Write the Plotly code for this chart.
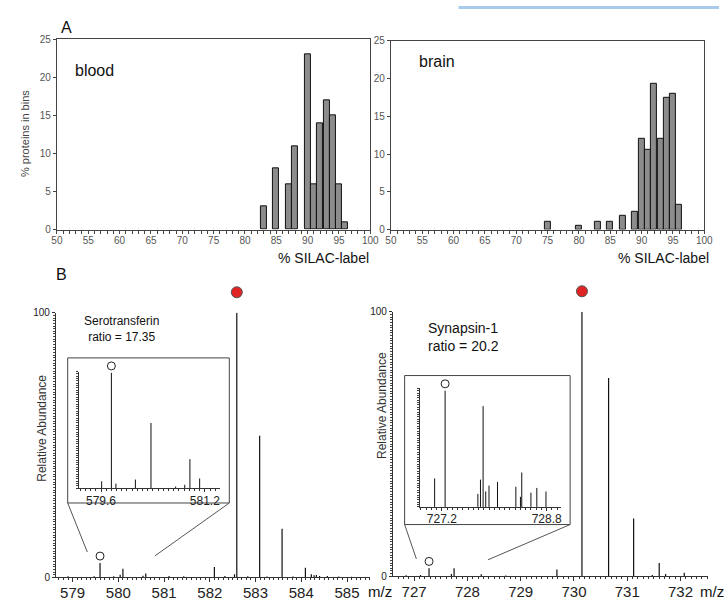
import plotly.graph_objects as go

W, H = 728, 608
FONT = "Liberation Sans"

# ---------------- data: panel A histograms ----------------
blood_bins = [83, 85, 87, 88, 90, 91, 92, 93, 94, 95, 96]
blood_pct = [3, 8, 6, 11, 23, 6, 14, 17, 15, 6, 1]
brain_bins = [75, 80, 83, 85, 87, 89, 90, 91, 92, 93, 94, 95, 96]
brain_pct = [1.0, 0.5, 1.0, 1.0, 1.8, 2.3, 12.0, 10.6, 19.3, 12.0, 17.5, 18.0, 3.3]
hist_ticks = [50, 55, 60, 65, 70, 75, 80, 85, 90, 95, 100]

# ---------------- data: panel B spectra ----------------
sero_mz = [578.9, 579.47, 579.6, 579.9, 580.04, 580.1, 580.54, 580.6, 581.11, 581.43,
           582.1, 582.33, 582.54, 582.59, 582.83, 583.09, 583.25, 583.58, 583.82,
           584.09, 584.22, 584.28, 584.33, 584.4, 584.57, 584.82, 585.1]
sero_int = [0.5, 0.5, 5.5, 0.5, 1.0, 3.3, 0.7, 1.5, 0.6, 0.5,
            4.0, 0.6, 1.2, 100, 0.5, 53.6, 0.4, 18.4, 0.4,
            3.7, 1.2, 0.8, 0.9, 0.6, 0.6, 0.4, 0.3]
sero_zoom_mz = [579.61, 579.76, 579.83, 580.13, 580.37, 580.75, 580.89, 580.97, 581.12]
sero_zoom_int = [6, 99, 4, 7.5, 56, 1.5, 3, 25, 8.4]

syn_mz = [726.85, 727.12, 727.28, 727.7, 727.75, 728.26, 728.72, 729.68,
          730.15, 730.65, 731.12, 731.47, 731.6, 731.72, 732.07]
syn_int = [0.4, 0.5, 3.0, 0.8, 3.0, 0.7, 0.3, 2.5,
           100, 75, 21.8, 0.5, 5.0, 0.8, 1.3]
syn_zoom_mz = [727.09, 727.25, 727.75, 727.79, 727.83, 727.87, 727.92, 728.05,
               728.33, 728.40, 728.42, 728.56, 728.65, 728.79]
syn_zoom_int = [24, 98, 11, 23, 85, 13, 18, 21, 17, 8.5, 29, 12, 16, 13]

sero_label = "Serotransferin<br>ratio = 17.35"
syn_label = "Synapsin-1<br>ratio = 20.2"


def xd(a, b):
    return [a / W, b / W]


def yd(top, bottom):
    return [1 - bottom / H, 1 - top / H]


def px(x):
    return x / W


def py(y):
    return 1 - y / H


def sticks(mz, inten):
    xs, ys = [], []
    for m, h in zip(mz, inten):
        xs += [m, m, None]
        ys += [0, h, None]
    return xs, ys


def base_idx(vals):
    return max(range(len(vals)), key=lambda i: vals[i])


fig = go.Figure()

# histograms
for bins, pct, xa, ya in [(blood_bins, blood_pct, "x", "y"), (brain_bins, brain_pct, "x2", "y2")]:
    fig.add_trace(go.Bar(x=bins, y=pct, width=0.95,
                         marker=dict(color="#8c8c8c", line=dict(color="#111111", width=1)),
                         xaxis=xa, yaxis=ya, showlegend=False))

# spectra sticks
for mz, it, xa, ya, w in [(sero_mz, sero_int, "x3", "y3", 1.2),
                          (syn_mz, syn_int, "x4", "y4", 1.2),
                          (sero_zoom_mz, sero_zoom_int, "x5", "y5", 1.0),
                          (syn_zoom_mz, syn_zoom_int, "x6", "y6", 1.0)]:
    xs, ys = sticks(mz, it)
    fig.add_trace(go.Scatter(x=xs, y=ys, mode="lines", line=dict(color="#111111", width=w),
                             xaxis=xa, yaxis=ya, showlegend=False, hoverinfo="skip"))

# main spectra: red dot above base peak, open circle above light peak
for mz, it, xa, ya, light_mz, pxper in [(sero_mz, sero_int, "x3", "y7", 579.6, 2.7),
                                        (syn_mz, syn_int, "x4", "y8", 727.28, 2.697)]:
    b = base_idx(it)
    fig.add_trace(go.Scatter(x=[mz[b]], y=[it[b] + 21 / pxper], mode="markers",
                             marker=dict(size=11, color="#e02424", line=dict(color="#555", width=1)),
                             xaxis=xa, yaxis=ya, showlegend=False))
    li = mz.index(light_mz)
    fig.add_trace(go.Scatter(x=[mz[li]], y=[it[li] + 7 / pxper], mode="markers",
                             marker=dict(size=8, color="white", line=dict(color="#222", width=1)),
                             xaxis=xa, yaxis=ya, showlegend=False))
# insets: open circle above light peak
for mz, it, xa, ya, pxper in [(sero_zoom_mz, sero_zoom_int, "x5", "y9", 1.19),
                              (syn_zoom_mz, syn_zoom_int, "x6", "y10", 1.21)]:
    b = base_idx(it)
    fig.add_trace(go.Scatter(x=[mz[b]], y=[it[b] + 7 / pxper], mode="markers",
                             marker=dict(size=8, color="white", line=dict(color="#222", width=1)),
                             xaxis=xa, yaxis=ya, showlegend=False))

tickfont_h = dict(family=FONT, size=10, color="#555")
hist_x = dict(range=[50, 100], tickmode="array", tickvals=hist_ticks, ticks="outside", ticklen=3,
              tickcolor="#444", showline=True, linecolor="#444", linewidth=1, mirror=True,
              showgrid=False, zeroline=False, tickfont=tickfont_h, ticklabelstandoff=-2,
              minor=dict(tickmode="linear", tick0=50, dtick=1, ticks="outside", ticklen=3,
                         tickcolor="#444", showgrid=False))
hist_y = dict(range=[0, 25], tickmode="linear", tick0=0, dtick=5, ticks="outside", ticklen=3,
              tickcolor="#444", showline=True, linecolor="#444", linewidth=1, mirror=True,
              showgrid=False, zeroline=False, tickfont=tickfont_h)

spec_x = dict(tickmode="linear", tick0=0, dtick=1, ticks="outside", ticklen=4, tickcolor="#333",
              showline=True, linecolor="#333", linewidth=1, showgrid=False, zeroline=False,
              tickfont=dict(family=FONT, size=15, color="#222"), ticklabelstandoff=-2,
              minor=dict(tickmode="linear", dtick=0.1, ticks="outside", ticklen=2,
                         tickcolor="#333", showgrid=False))
spec_y = dict(range=[0, 100], tickmode="linear", tick0=0, dtick=100, ticks="outside", ticklen=3,
              tickcolor="#333", showline=True, linecolor="#333", linewidth=1, showgrid=False,
              zeroline=False, tickfont=dict(family=FONT, size=10, color="#222"),
              minor=dict(tickmode="linear", dtick=1, ticks="outside", ticklen=2,
                         tickcolor="#444", showgrid=False))
ins_x = dict(tickmode="linear", dtick=1.6, ticks="outside", ticklen=3, tickcolor="#333",
             showline=True, linecolor="#333", linewidth=1, showgrid=False, zeroline=False,
             tickfont=dict(family=FONT, size=12, color="#222"), ticklabelstandoff=-2,
             minor=dict(tickmode="linear", dtick=0.08, ticks="outside", ticklen=2,
                        tickcolor="#333", showgrid=False))
ins_y = dict(range=[0, 100], tickmode="linear", tick0=0, dtick=100, ticks="outside", ticklen=2,
             tickcolor="#333", showline=True, linecolor="#333", linewidth=1, showgrid=False,
             zeroline=False, showticklabels=False,
             minor=dict(tickmode="linear", dtick=2, ticks="outside", ticklen=2,
                        tickcolor="#444", showgrid=False))


def tall(anchor, top, bottom, newtop):
    # invisible y axis with the same px-per-% scale as the 0-100 axis but extending higher
    return dict(domain=yd(newtop, bottom), anchor=anchor, visible=False,
                range=[0, 100 * (bottom - newtop) / (bottom - top)], showgrid=False, zeroline=False)


fig.update_layout(
    width=W, height=H, margin=dict(l=0, r=0, t=0, b=0),
    paper_bgcolor="white", plot_bgcolor="rgba(0,0,0,0)",
    bargap=0, showlegend=False,
    font=dict(family=FONT, color="#111"),
    xaxis=dict(domain=xd(52, 372), anchor="y", **hist_x),
    yaxis=dict(domain=yd(34, 228), anchor="x", **hist_y),
    xaxis2=dict(domain=xd(393, 713), anchor="y2", **hist_x),
    yaxis2=dict(domain=yd(35.5, 228), anchor="x2", **hist_y),
    xaxis3=dict(domain=xd(51, 372), anchor="y3", range=[578.636, 585.51], **spec_x),
    yaxis3=dict(domain=yd(313, 583), anchor="x3", **spec_y),
    xaxis4=dict(domain=xd(395, 717), anchor="y4", range=[726.601, 732.52], **spec_x),
    yaxis4=dict(domain=yd(312, 581.7), anchor="x4", **spec_y),
    xaxis5=dict(domain=xd(75, 218), anchor="y5", range=[579.268, 581.426], tick0=579.6, **ins_x),
    yaxis5=dict(domain=yd(373, 492), anchor="x5", **ins_y),
    xaxis6=dict(domain=xd(423, 567), anchor="y6", range=[726.871, 729.024], tick0=727.2, **ins_x),
    yaxis6=dict(domain=yd(390, 511), anchor="x6", **ins_y),
    yaxis7=tall("x3", 313, 583, 270),
    yaxis8=tall("x4", 312, 581.7, 270),
    yaxis9=tall("x5", 373, 492, 350),
    yaxis10=tall("x6", 390, 511, 370),
)

shapes = []
# light blue strip at top
shapes.append(dict(type="rect", xref="paper", yref="paper", x0=px(462), x1=px(728), y0=py(3), y1=py(0),
                   fillcolor="#a9cbeb", line=dict(width=0), layer="below"))
# inset frames
for (x0, y0, x1, y1) in [(63, 359, 228, 507), (407, 377, 576, 529)]:
    shapes.append(dict(type="rect", xref="paper", yref="paper", x0=px(x0), x1=px(x1), y0=py(y1), y1=py(y0),
                       line=dict(color="#444", width=1), fillcolor="rgba(0,0,0,0)", layer="below"))
# zoom connector lines
for (x0, y0, x1, y1) in [(63, 507, 83, 557), (228, 507, 152, 561),
                         (407, 529, 419, 564), (576, 529, 492, 565)]:
    shapes.append(dict(type="line", xref="paper", yref="paper", x0=px(x0), x1=px(x1), y0=py(y0), y1=py(y1),
                       line=dict(color="#555", width=1)))
fig.update_layout(shapes=shapes)

ann = []


def add_text(text, x, y, size, color="#111", xanchor="center", angle=0, align="center"):
    ann.append(dict(text=text, x=px(x), y=py(y), xref="paper", yref="paper", showarrow=False,
                    xanchor=xanchor, yanchor="middle", textangle=angle, align=align,
                    font=dict(family=FONT, size=size, color=color)))


add_text("A", 62, 22, 16)
add_text("B", 57, 274, 16)
add_text("blood", 68, 66, 16, xanchor="left")
add_text("brain", 420, 57, 16, xanchor="left")
add_text("% proteins in bins", 20, 130, 11, color="#444", angle=-90)
add_text("% SILAC-label", 373, 257, 14, xanchor="right")
add_text("% SILAC-label", 720, 257, 14, xanchor="right")
add_text("m/z", 368, 597, 15, xanchor="left")
add_text("m/z", 707, 597, 15, xanchor="left")
add_text("Relative Abundance", 37, 431, 12, color="#333", angle=-90)
add_text("Relative Abundance", 384, 408, 12, color="#333", angle=-90)
add_text(sero_label, 118, 330, 12)
add_text(syn_label, 429, 338, 14, xanchor="left", align="left")
fig.update_layout(annotations=ann)

fig.write_html("out.html", config={"displayModeBar": False},
               post_script="document.body.style.margin='0px';")
